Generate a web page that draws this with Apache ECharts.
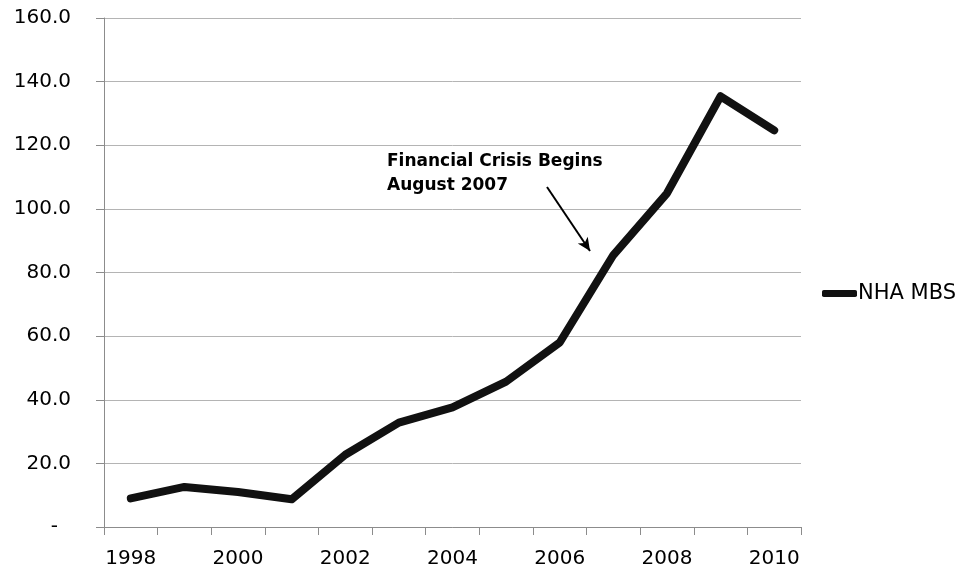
<!DOCTYPE html>
<html><head><meta charset="utf-8">
<script src="https://cdn.jsdelivr.net/npm/echarts@6/dist/echarts.min.js"></script>
<style>html,body{margin:0;padding:0;background:#fff}#c{width:965px;height:569px}</style>
</head><body><div id="c"></div>
<script>
const years = ['1998','1999','2000','2001','2002','2003','2004','2005','2006','2007','2008','2009','2010'];
const nhaMbs = [9.0, 12.6, 11.0, 8.7, 22.7, 32.8, 37.6, 45.7, 58.0, 85.5, 104.9, 135.4, 124.7];
const seriesName = 'NHA MBS';
const annotationLines = ['Financial Crisis Begins', 'August 2007'];

const chart = echarts.init(document.getElementById('c'));
const font = 'DejaVu Sans';
chart.setOption({
  animation: false,
  backgroundColor: '#fff',
  grid: { left: 104, right: 164, top: 18, bottom: 42, containLabel: false },
  legend: {
    data: [seriesName], orient: 'vertical', left: 817, top: 278,
    icon: 'roundRect', itemWidth: 35, itemHeight: 7, itemGap: 0,
    textStyle: { fontFamily: font, fontSize: 21, color: '#000', padding: [0,0,0,-4] }
  },
  xAxis: {
    type: 'category', data: years, boundaryGap: true,
    axisLine: { lineStyle: { color: '#8c8c8c', width: 1 } },
    axisTick: { show: true, interval: 0, length: 8, lineStyle: { color: '#8c8c8c' } },
    axisLabel: { interval: 1, margin: 22, fontFamily: font, fontSize: 20, color: '#000' },
    splitLine: { show: false }
  },
  yAxis: {
    type: 'value', min: 0, max: 160, interval: 20,
    axisLine: { show: true, lineStyle: { color: '#8c8c8c', width: 1 } },
    axisTick: { show: true, length: 8, lineStyle: { color: '#8c8c8c' } },
    axisLabel: {
      margin: 33, fontFamily: font, fontSize: 20, color: '#000',
      formatter: v => v === 0 ? '{d|-}' : v.toFixed(1),
      rich: { d: { fontFamily: font, fontSize: 20, color: '#000', padding: [0, 13, 0, 0] } }
    },
    splitLine: { show: true, lineStyle: { color: '#b4b4b4', width: 1 } }
  },
  series: [{
    name: seriesName, type: 'line', data: nhaMbs,
    showSymbol: false, symbol: 'none',
    lineStyle: { color: '#111', width: 8, join: 'round', cap: 'round' },
    itemStyle: { color: '#111' },
    markLine: {
      silent: true, symbol: ['none', 'arrow'], symbolSize: [9, 13],
      label: { show: false },
      lineStyle: { color: '#000', width: 2, type: 'solid' },
      data: [[{ x: 547, y: 187 }, { x: 590, y: 251 }]]
    }
  }],
  graphic: [{
    type: 'text', left: 387, top: 150,
    style: {
      text: annotationLines.join('\n'), fontFamily: font, fontSize: 17,
      fontWeight: 'bold', fill: '#000', lineHeight: 24
    }
  }]
});
</script></body></html>
